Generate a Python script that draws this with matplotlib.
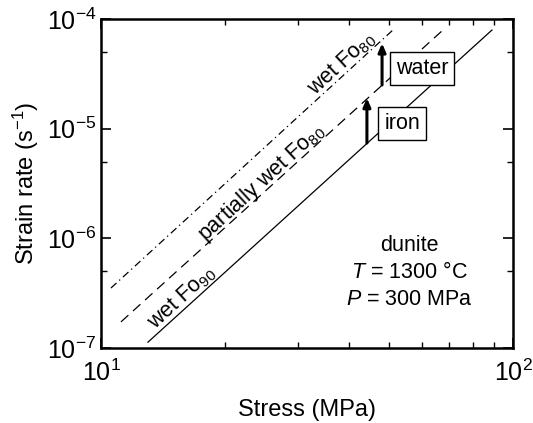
import matplotlib
matplotlib.use("Agg")
import matplotlib.pyplot as plt

plt.rcParams['font.family'] = ['Liberation Sans', 'DejaVu Sans']
plt.rcParams['mathtext.fontset'] = 'custom'
plt.rcParams['mathtext.rm'] = 'Liberation Sans'
plt.rcParams['mathtext.it'] = 'Liberation Sans:italic'
plt.rcParams['mathtext.default'] = 'regular'

# flow laws (endpoints): stress in MPa, strain rate in 1/s
wet_fo80_stress = [10.57, 51.1]
wet_fo80_rate = [3.52e-7, 7.93e-5]
partial_fo80_stress = [11.18, 67.6]
partial_fo80_rate = [1.73e-7, 7.93e-5]
wet_fo90_stress = [13.0, 88.9]
wet_fo90_rate = [1.13e-7, 7.93e-5]

# arrows: (stress, rate from, rate to)
water_arrow = (48.1, 2.50e-5, 6.0e-5)
iron_arrow = (44.2, 7.4e-6, 1.9e-5)

fig = plt.figure(figsize=(5.33, 4.23), dpi=100)
ax = fig.add_axes([0.1895, 0.1773, 0.773, 0.7778])

lw = 0.9
ax.plot(wet_fo80_stress, wet_fo80_rate, color='black', lw=lw, dashes=[6, 3, 1, 3])
ax.plot(partial_fo80_stress, partial_fo80_rate, color='black', lw=lw, dashes=[8, 5])
ax.plot(wet_fo90_stress, wet_fo90_rate, color='black', lw=lw)

ax.set_xscale('log')
ax.set_yscale('log')
ax.set_xlim(10, 100)
ax.set_ylim(1e-7, 1e-4)

# arrows
for s, r0, r1 in (water_arrow, iron_arrow):
    ax.annotate('', xy=(s, r1), xytext=(s, r0),
                arrowprops=dict(arrowstyle='-|>,head_length=0.5,head_width=0.22',
                                lw=2.2, color='black', shrinkA=0, shrinkB=0))

box = dict(boxstyle='square,pad=0.28', fc='white', ec='black', lw=1.0)
ax.text(60.1, 3.56e-5, 'water', fontsize=15.5, ha='center', va='center', bbox=box)
ax.text(53.8, 1.12e-5, 'iron', fontsize=15.5, ha='center', va='center', bbox=box)

ang = 42.5
ax.text(38.5, 3.88e-5, 'wet Fo$_{80}$', fontsize=15.5, rotation=ang,
        rotation_mode='anchor', ha='center', va='center')
ax.text(24.6, 3.19e-6, 'partially wet Fo$_{80}$', fontsize=15.5, rotation=ang,
        rotation_mode='anchor', ha='center', va='center')
ax.text(15.7, 2.86e-7, 'wet Fo$_{90}$', fontsize=15.5, rotation=ang,
        rotation_mode='anchor', ha='center', va='center')

ax.text(0.748, 0.313, 'dunite', transform=ax.transAxes, fontsize=15.5,
        ha='center', va='center')
ax.text(0.748, 0.228, r'$\mathit{T}$ = 1300 °C', transform=ax.transAxes, fontsize=15.5,
        ha='center', va='center')
ax.text(0.748, 0.146, r'$\mathit{P}$ = 300 MPa', transform=ax.transAxes, fontsize=15.5,
        ha='center', va='center')

ax.set_xlabel('Stress (MPa)', fontsize=17, labelpad=10)
ax.set_ylabel('Strain rate (s$^{-1}$)', fontsize=17, labelpad=4)

ax.set_xticks([10, 100])
ax.set_yticks([1e-7, 1e-6, 1e-5, 1e-4])
ax.yaxis.set_minor_locator(matplotlib.ticker.LogLocator(base=10, subs=[5]))
ax.xaxis.set_minor_locator(matplotlib.ticker.LogLocator(base=10, subs=range(2, 10)))
ax.xaxis.set_minor_formatter(matplotlib.ticker.NullFormatter())
ax.yaxis.set_minor_formatter(matplotlib.ticker.NullFormatter())
ax.tick_params(which='both', direction='in', top=True, right=True, labelsize=18)
ax.tick_params(which='major', length=7, width=1.2)
ax.tick_params(which='minor', length=4, width=1.0)
ax.tick_params(axis='x', pad=8)
for sp in ax.spines.values():
    sp.set_linewidth(1.8)

fig.savefig('out.png', dpi=100)
